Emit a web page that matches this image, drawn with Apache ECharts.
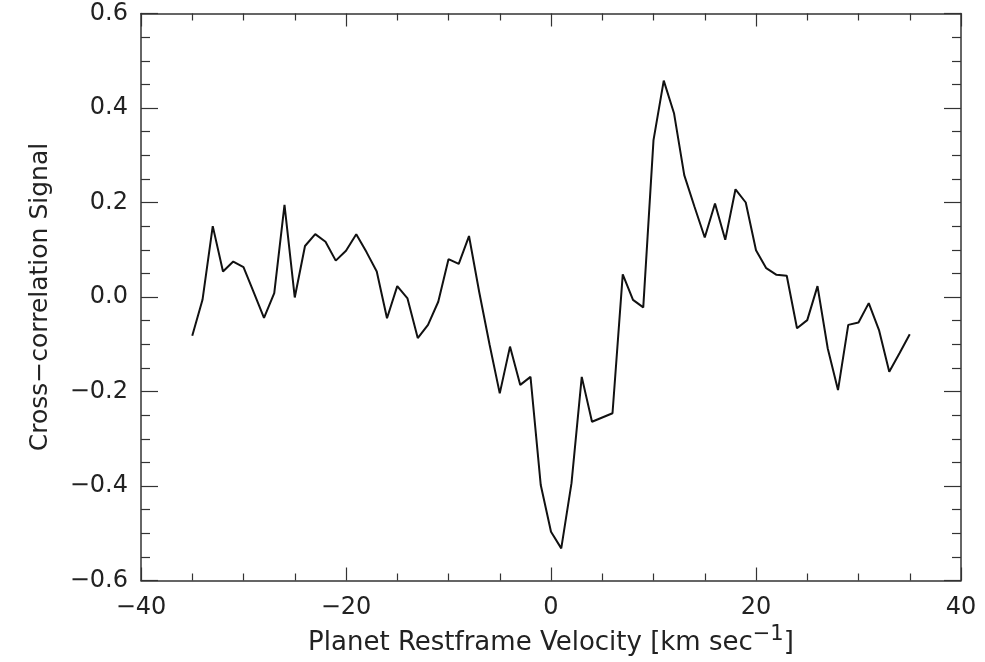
<!DOCTYPE html>
<html>
<head>
<meta charset="utf-8">
<script src="https://cdn.jsdelivr.net/npm/echarts@6/dist/echarts.min.js"></script>
<style>
html,body{margin:0;padding:0;background:#fff;}
#c{width:985px;height:662px;}
</style>
</head>
<body>
<div id="c"></div>
<script>
// Data
var velocities = [-35,-34,-33,-32,-31,-30,-29,-28,-27,-26,-25,-24,-23,-22,-21,-20,-19,-18,-17,-16,-15,-14,-13,-12,-11,-10,-9,-8,-7,-6,-5,-4,-3,-2,-1,0,1,2,3,4,5,6,7,8,9,10,11,12,13,14,15,16,17,18,19,20,21,22,23,24,25,26,27,28,29,30,31,32,33,34,35];
var signal = [-0.082,-0.006,0.150,0.054,0.075,0.063,0.010,-0.044,0.008,0.195,-0.001,0.108,0.133,0.117,0.077,0.098,0.133,0.095,0.054,-0.045,0.023,-0.003,-0.087,-0.059,-0.010,0.080,0.070,0.129,0.010,-0.100,-0.204,-0.105,-0.186,-0.169,-0.398,-0.497,-0.532,-0.394,-0.169,-0.264,-0.255,-0.246,0.048,-0.006,-0.022,0.332,0.458,0.389,0.258,0.191,0.126,0.198,0.121,0.228,0.200,0.099,0.061,0.047,0.045,-0.066,-0.049,0.023,-0.109,-0.197,-0.059,-0.054,-0.013,-0.070,-0.158,-0.119,-0.079];
var xTicks = {min:-40, max:40, interval:20};
var yTicks = {min:-0.6, max:0.6, interval:0.2};

var pts = velocities.map(function(v,i){return [v, signal[i]];});
var font = 'DejaVu Sans';
var axisCol = '#333';
var txtCol = '#222';
function minusFmt(dec){
  return function(v){ return (v<0?'\u2212':'') + Math.abs(v).toFixed(dec); };
}
function baseAxis(extra){
  var a = {
    type:'value',
    axisLine:{show:true, onZero:false, lineStyle:{color:axisCol, width:1.5}},
    splitLine:{show:false},
    minorSplitLine:{show:false}
  };
  for (var k in extra) a[k] = extra[k];
  return a;
}
var xTick = {show:true, inside:true, length:13, lineStyle:{color:axisCol, width:1.2}};
var xMinor = {show:true, splitNumber:4, length:7, lineStyle:{color:axisCol, width:1.2}};
var yTick = {show:true, inside:true, length:17, lineStyle:{color:axisCol, width:1.2}};
var yMinor = {show:true, splitNumber:4, length:9, lineStyle:{color:axisCol, width:1.2}};
var chart = echarts.init(document.getElementById('c'));
chart.setOption({
  animation:false,
  backgroundColor:'#fff',
  grid:{left:141, top:13.5, right:24, bottom:81.5, containLabel:false},
  xAxis:[
    baseAxis({position:'bottom', min:xTicks.min, max:xTicks.max, interval:xTicks.interval,
      axisTick:xTick, minorTick:xMinor,
      axisLabel:{show:true, color:txtCol, fontFamily:font, fontSize:24, margin:15, formatter:minusFmt(0)},
      name:'Planet Restframe Velocity [km sec{sup|\u22121}]',
      nameLocation:'middle', nameGap:42,
      nameTextStyle:{color:txtCol, fontFamily:font, fontSize:26,
        rich:{sup:{fontFamily:font, fontSize:21, color:txtCol, verticalAlign:'bottom', padding:[0,0,16,0]}}}
    }),
    baseAxis({position:'top', min:xTicks.min, max:xTicks.max, interval:xTicks.interval,
      axisTick:xTick, minorTick:xMinor, axisLabel:{show:false}})
  ],
  yAxis:[
    baseAxis({position:'left', min:yTicks.min, max:yTicks.max, interval:yTicks.interval,
      axisTick:yTick, minorTick:yMinor,
      axisLabel:{show:true, color:txtCol, fontFamily:font, fontSize:24, margin:13, formatter:minusFmt(1)},
      name:'Cross\u2212correlation Signal',
      nameLocation:'middle', nameGap:88,
      nameTextStyle:{color:txtCol, fontFamily:font, fontSize:25}
    }),
    baseAxis({position:'right', min:yTicks.min, max:yTicks.max, interval:yTicks.interval,
      axisTick:yTick, minorTick:yMinor, axisLabel:{show:false}})
  ],
  series:[{
    type:'line', xAxisIndex:0, yAxisIndex:0,
    data:pts, showSymbol:false, symbol:'none',
    lineStyle:{color:'#111', width:2}
  }]
});
</script>
</body>
</html>
